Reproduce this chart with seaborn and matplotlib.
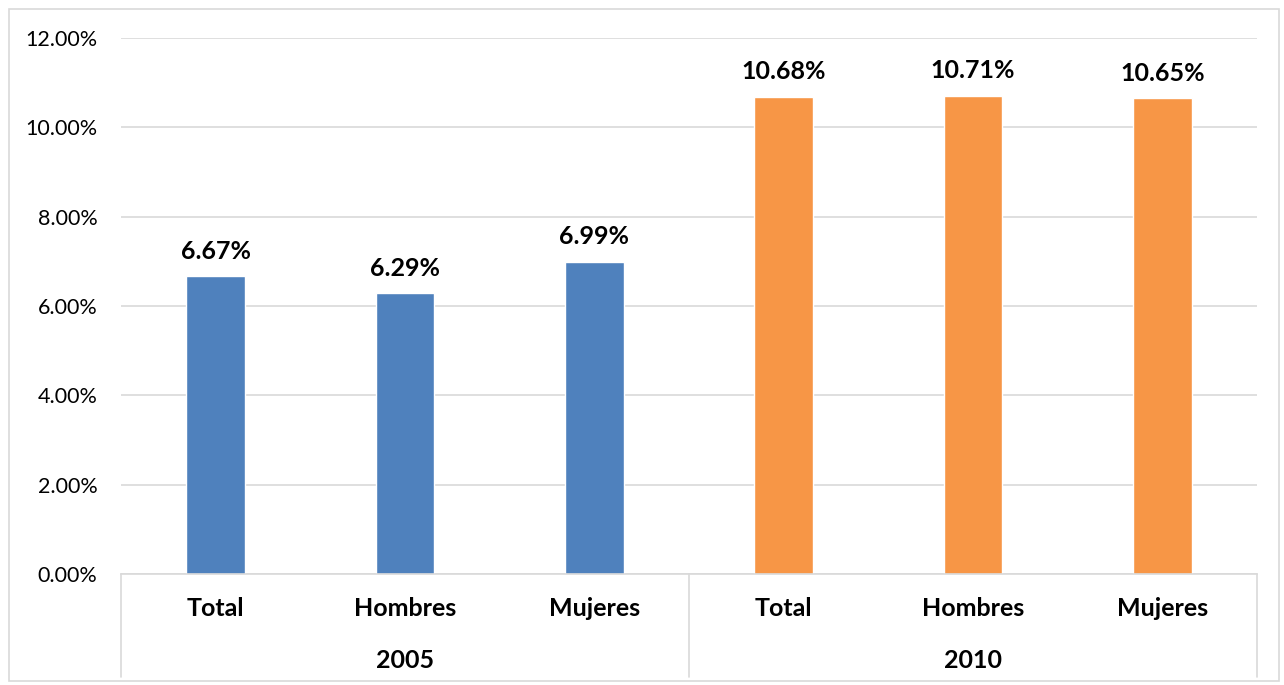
import matplotlib
matplotlib.use("Agg")
import matplotlib.pyplot as plt
import seaborn as sns
import pandas as pd
from matplotlib.patches import Rectangle
from matplotlib.lines import Line2D

years = ["2005", "2005", "2005", "2010", "2010", "2010"]
groups = ["Total", "Hombres", "Mujeres", "Total", "Hombres", "Mujeres"]
values = [6.67, 6.29, 6.99, 10.68, 10.71, 10.65]
colors = {"2005": "#4F81BD", "2010": "#F79646"}

sns.set_theme(style="white")
plt.rcParams['font.family'] = ['Lato', 'DejaVu Sans']

df = pd.DataFrame({"key": [f"{g}_{y}" for g, y in zip(groups, years)],
                   "year": years, "value": [v / 100 for v in values]})

fig = plt.figure(figsize=(12.84, 6.85), dpi=100)
ax = fig.add_axes([121/1284, 1-574/685, (1257-121)/1284, (574-38)/685])

sns.barplot(data=df, x="key", y="value", hue="year", palette=colors,
            dodge=False, width=0.31, legend=False, ax=ax, saturation=1)

ax.set_ylim(0, 0.12)
ax.set_xlim(-0.5, 5.5)
ax.set_yticks([i*0.02 for i in range(7)])
ax.set_yticklabels([f"{i*2:.2f}%" for i in range(7)], fontsize=15.5, color="#000000")
ax.yaxis.grid(True, color="#d9d9d9", linewidth=1.2)
ax.set_axisbelow(True)
ax.tick_params(axis='y', length=0, pad=17)
ax.set_xticks([])
ax.set_xlabel("")
ax.set_ylabel("")
for s in ["left", "right", "top"]:
    ax.spines[s].set_visible(False)
ax.spines["bottom"].set_color("#d9d9d9")
ax.spines["bottom"].set_linewidth(1.2)

for i, v in enumerate(values):
    ax.annotate(f"{v:.2f}%", (i, v/100), xytext=(0, 18), textcoords="offset points",
                ha="center", va="center", fontsize=18, fontweight="bold", color="#000000")

h = 536
for i, g in enumerate(groups):
    ax.text(i, -(608-574)/h, g, transform=ax.get_xaxis_transform(), ha="center", va="center",
            fontsize=18, fontweight="bold", color="#000000")
for j, y in enumerate(["2005", "2010"]):
    ax.text(1 + 3*j, -(660-574)/h, y, transform=ax.get_xaxis_transform(), ha="center", va="center",
            fontsize=18, fontweight="bold", color="#000000")
for xv in [-0.5, 2.5, 5.5]:
    ax.add_line(Line2D([xv, xv], [0, -(677-574)/h], transform=ax.get_xaxis_transform(),
                       color="#d9d9d9", linewidth=1.2, clip_on=False))

fig.patches.append(Rectangle((9/1284, 4/685), (1279-9)/1284, (676-4)/685, transform=fig.transFigure,
                             fill=False, edgecolor="#d9d9d9", linewidth=1.2))

fig.savefig("out.png", dpi=100)
